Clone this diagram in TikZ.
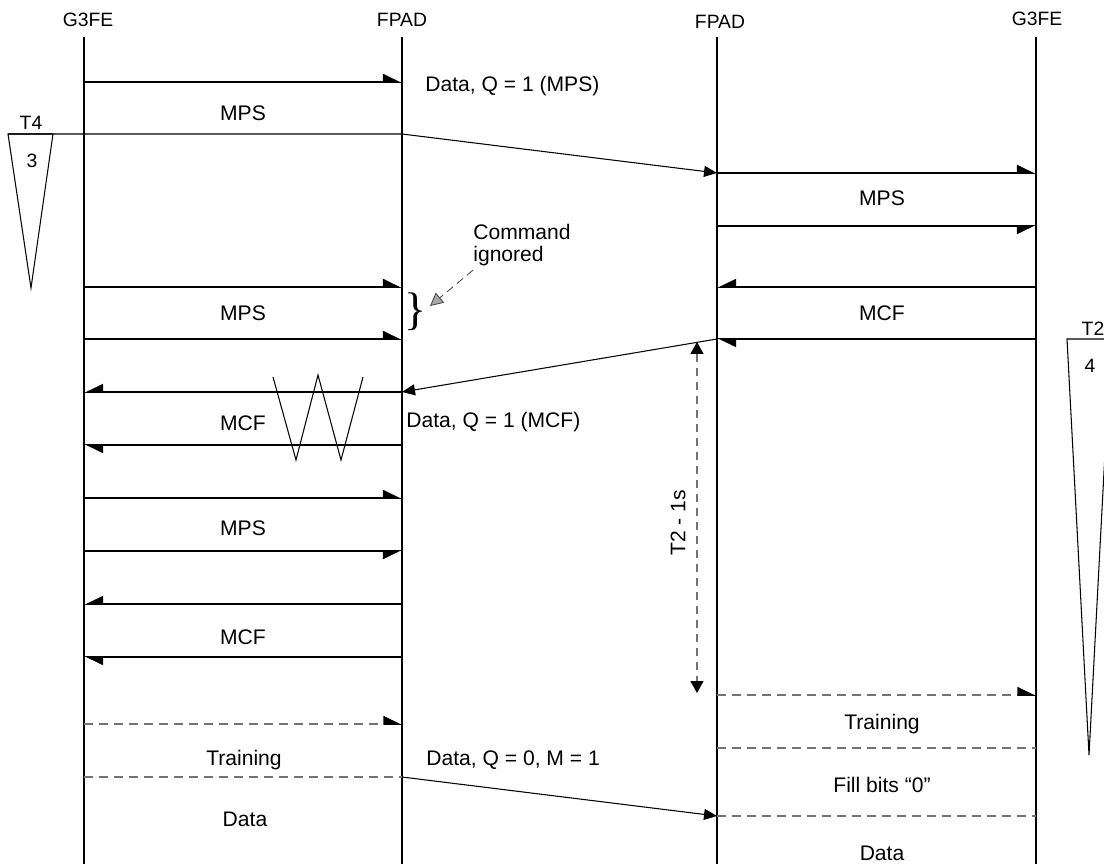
\documentclass[tikz,border=0pt]{standalone}
\usepackage{fontspec}
\setmainfont{Liberation Sans}
\newfontfamily\bracefont{Liberation Serif}
\usetikzlibrary{arrows.meta}
\tikzset{
  % Lifelines and the plain message lines share one weight.
  life/.style  = {line width=1.1pt, black},
  msg/.style   = {line width=1.1pt, black},
  % Half heads: the barb sits above or below the line, whatever the direction.
  rup/.style   = {msg, -{Triangle[harpoon, length=.34cm, width=.32cm, color=black]}},
  rdn/.style   = {msg, -{Triangle[harpoon, swap, length=.34cm, width=.32cm, color=black]}},
  lup/.style   = {msg, -{Triangle[harpoon, swap, length=.34cm, width=.32cm, color=black]}},
  ldn/.style   = {msg, -{Triangle[harpoon, length=.34cm, width=.32cm, color=black]}},
  dmsg/.style  = {line width=.9pt, black!55, dash pattern=on .18cm off .12cm},
  diag/.style  = {line width=.6pt, black, -{Triangle[length=.26cm, width=.22cm]}},
  thinl/.style = {line width=.6pt, black},
  span/.style  = {line width=.8pt, black!55, dash pattern=on .16cm off .12cm,
                  {Triangle[length=.24cm, width=.26cm, color=black]}-{Triangle[length=.24cm, width=.26cm, color=black]}},
  note/.style  = {line width=.5pt, black!70, dash pattern=on .16cm off .1cm,
                  -{Triangle[length=.26cm, width=.26cm, fill=black!35, color=black!70]}},
  hdr/.style   = {font=\fontsize{11}{13}\selectfont, inner sep=0pt},
  lbl/.style   = {font=\fontsize{12}{13}\selectfont, inner sep=0pt},
}

\begin{document}
\begin{tikzpicture}[x=0.02cm, y=-0.02cm]
    \useasboundingbox (0,0) rectangle (1104,864);
    \clip (0,0) rectangle (1104,864);

    % lifelines
    \coordinate (gA) at (84,37);
    \coordinate (fA) at (402,37);
    \coordinate (fB) at (717,37);
    \coordinate (gB) at (1036,37);
    \foreach \p in {gA, fA, fB, gB}
        \draw[life] (\p) -- (\p |- 0,864);

    \node[hdr] (hgA) at (88,19.5)  {G3FE};
    \node[hdr] (hfA) at (402,19.5) {FPAD};
    \node[hdr] (hfB) at (720,22)   {FPAD};
    \node[hdr] (hgB) at (1037,19)  {G3FE};

    % calling side
    \foreach \y/\d in {82/rup, 287/rup, 339/rup, 498/rup, 551/rdn}
        \draw[\d] (gA |- 0,\y) -- (fA |- 0,\y);
    \foreach \y/\d in {392/lup, 445/ldn, 604/lup, 657/ldn}
        \draw[\d] (fA |- 0,\y) -- (gA |- 0,\y);
    \draw[rup, dmsg] (gA |- 0,724) -- (fA |- 0,724);
    \draw[dmsg]      (gA |- 0,777) -- (fA |- 0,777);

    % called side
    \draw[rup] (fB |- 0,173) -- (gB |- 0,173);
    \draw[rdn] (fB |- 0,226) -- (gB |- 0,226);
    \draw[lup] (gB |- 0,287) -- (fB |- 0,287);
    \draw[ldn] (gB |- 0,339) -- (fB |- 0,339);
    \draw[rup, dmsg] (fB |- 0,695) -- (gB |- 0,695);
    \foreach \y in {748, 816}
        \draw[dmsg] (fB |- 0,\y) -- (gB |- 0,\y);

    % packets across the network
    \draw[diag] (8,134) -- (fA |- 0,134) -- (fB |- 0,173);
    \draw[diag] (fB |- 0,339) -- (fA |- 0,392);
    \draw[diag] (fA |- 0,777) -- (fB |- 0,816);

    % timers
    \draw[thinl] (8,134) -- (53,134) -- (31,288) -- cycle;
    \node[hdr] (tfour) at (31,123) {T4};
    \node[hdr] (nthree) at (32,161) {3};
    \draw[thinl] (1067,339) -- (1111,339) -- (1089,755) -- cycle;
    \node[hdr] (ttwo) at (1093,329) {T2};
    \node[hdr] (nfour) at (1090,366) {4};

    \coordinate (sTop) at (697,342);
    \coordinate (sBot) at (697,693);
    \draw[span] (sTop) -- (sBot);
    \node[lbl, rotate=90] (tspan) at (678,523) {T2 - 1s};

    % lost MCF
    \draw[thinl] (273,377) -- (296,460) -- (318,375) -- (341,460) -- (363,377);

    \node[inner sep=0pt, font=\bracefont\fontsize{26}{26}\selectfont] (brc) at (415,312) {\}};
    \node[lbl, anchor=west, align=left] (cmd) at (473,245) {Command\\ignored};
    \coordinate (ign) at (430,306);
    \draw[note] ([yshift=-2pt]cmd.south west) -- (ign);

    % message labels
    \node[lbl] (mpsA) at (243,113) {MPS};
    \node[lbl] (mpsB) at (243,313) {MPS};
    \node[lbl] (mcfA) at (243,423) {MCF};
    \node[lbl] (mpsC) at (243,528) {MPS};
    \node[lbl] (mcfB) at (243,637) {MCF};
    \node[lbl] (trnA) at (244,760) {Training};
    \node[lbl] (datA) at (245,819) {Data};

    \node[lbl, anchor=west] (pktA) at (425,86)  {Data, Q = 1 (MPS)};
    \node[lbl, anchor=west] (pktB) at (406,422) {Data, Q = 1 (MCF)};
    \node[lbl, anchor=west] (pktC) at (426,760) {Data, Q = 0, M = 1};

    \node[lbl] (mpsD) at (882,198) {MPS};
    \node[lbl] (mcfC) at (882,313) {MCF};
    \node[lbl] (trnB) at (882,724) {Training};
    \node[lbl] (fill) at (882,785) {Fill bits “0”};
    \node[lbl] (datB) at (882,853) {Data};
\end{tikzpicture}
\end{document}
